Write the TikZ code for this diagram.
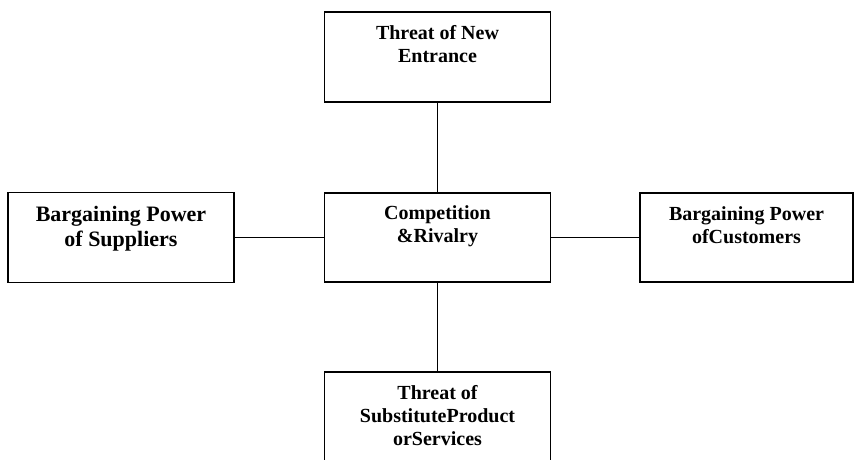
\documentclass[tikz,border=0pt]{standalone}
\usepackage{fontspec}
\setmainfont{Liberation Serif}
\usetikzlibrary{positioning}

\begin{document}
\begin{tikzpicture}[
        x=1pt, y=-1pt,
        force/.style = {rectangle, draw=black, line width=1.6pt, minimum width=226pt, minimum height=90pt, inner sep=0pt, node contents={}},
        label/.style = {align=center, inner sep=0pt, font=\bfseries\fontsize{20}{23}\selectfont},
        biglabel/.style = {label, font=\bfseries\fontsize{22}{25.5}\selectfont},
        link/.style = {line width=1.6pt}
        ]

        \useasboundingbox (0,0) rectangle (856,460);
        \clip (0,0) rectangle (856,460);

        % the five forces
        \node (entrant) at (437.5,57)     [force];
        \node (rivalry) at (437.5,237.5)  [force, minimum height=89pt];
        \node (supplier) at (121,237.5)   [force];
        \node (customer) at (746.5,237.5) [force, minimum width=213pt, minimum height=89pt];
        \node (substitute) at (437.5,417) [force];

        \node (entrantT) [label, below=14.5pt of entrant.north] {Threat of New\\Entrance};
        \node (rivalryT) [label, below=13.5pt of rivalry.north] {Competition\\\&Rivalry};
        \node (supplierT) [biglabel, below=14pt of supplier.north] {Bargaining Power\\of Suppliers};
        \node (customerT) [label, below=14.5pt of customer.north] {Bargaining Power\\ofCustomers};
        \node (substituteT) [label, below=14.5pt of substitute.north] {Threat of\\SubstituteProduct\\orServices};

        \draw[link] (entrant) -- (rivalry);
        \draw[link] (supplier) -- (rivalry);
        \draw[link] (rivalry) -- (customer);
        \draw[link] (rivalry) -- (substitute);

    \end{tikzpicture}
\end{document}
